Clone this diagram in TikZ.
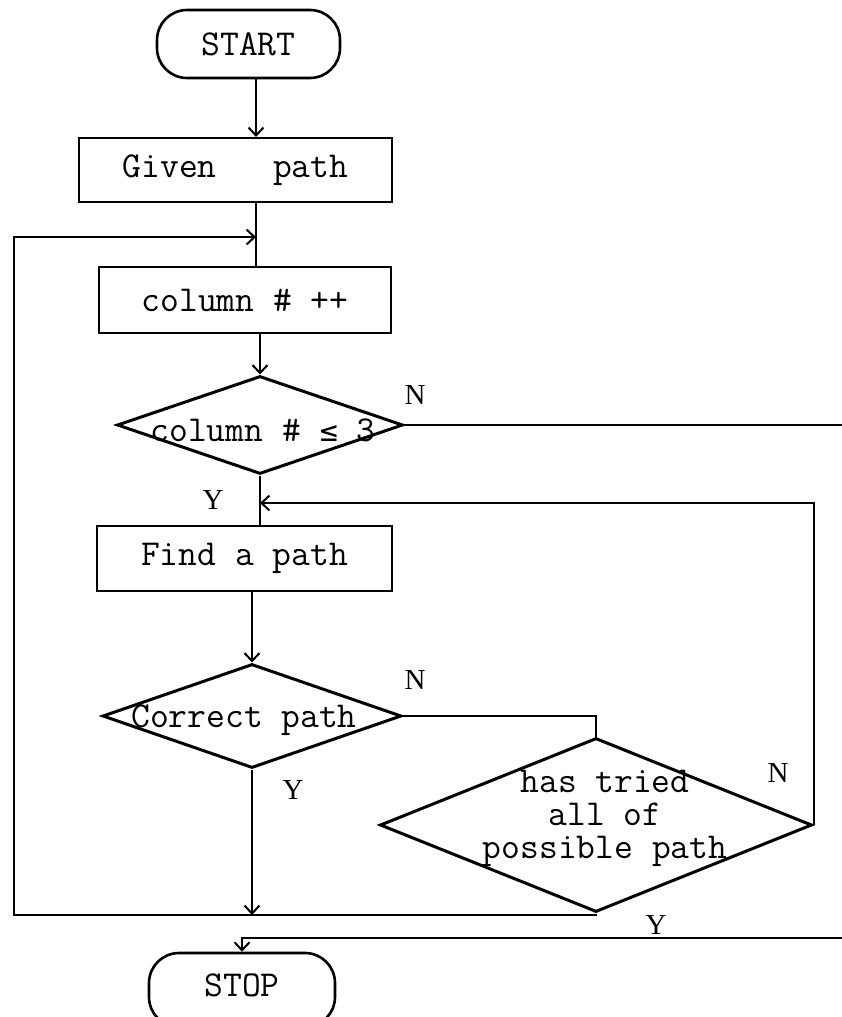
\documentclass[tikz,border=0pt]{standalone}
\usepackage{fontspec}
\newfontfamily\labfont{Liberation Serif}
\newfontfamily\symfont{DejaVu Sans Mono}
\usetikzlibrary{arrows.meta,shapes.geometric,calc}
\begin{document}
\begin{tikzpicture}[x=1pt,y=-1pt,
  tt/.style={font=\ttfamily\fontsize{36.5}{33}\selectfont},
  box/.style={tt, draw, line width=2pt, rectangle, inner sep=0pt},
  term/.style={tt, draw, line width=2.6pt, rounded corners=30pt, inner sep=0pt},
  dia/.style={draw, diamond, line width=3pt, inner sep=0pt},
  dtext/.style={tt, align=center, inner sep=0pt},
  lab/.style={font=\labfont\fontsize{29}{30}\selectfont, inner sep=0pt},
  conn/.style={line width=2pt},
  arr/.style={conn, -{Straight Barb[length=8pt,width=15pt,line width=2pt]}}
]
\useasboundingbox (0,0) rectangle (842,1017);

% nodes
\node[term, minimum width=183pt, minimum height=68pt] (start) at (248.5,44) {START};
\node[box, minimum width=313pt, minimum height=64pt] (given) at (235.5,170) {Given\ \ \ path};
\node[box, minimum width=292pt, minimum height=66pt] (column) at (245,300) {column \# ++};
\node[dia, minimum width=286pt, minimum height=98pt] (d1) at (260,425) {};
\node[dtext] (t1) at (263,430) {column \# {\symfont\fontsize{30}{33}\selectfont ≤} 3};
\node[box, minimum width=295pt, minimum height=65pt] (find) at (244.5,558.5) {Find a path};
\node[dia, minimum width=299pt, minimum height=104pt] (d2) at (252,716) {};
\node[dtext] (t2) at (244,720) {Correct path};
\node[dia, minimum width=432pt, minimum height=174pt] (d3) at (596,825) {};
\node[dtext] (t3) at (605,818) {has tried\\all of\\possible path};
\node[term, minimum width=186pt, minimum height=74pt] (stop) at (242,990) {\raisebox{9pt}{STOP}};

% labels
\node[lab] (n1) at (415,395) {N};
\node[lab] (y1) at (213,500) {Y};
\node[lab] (n2) at (415,680) {N};
\node[lab] (y2) at (293,790) {Y};
\node[lab] (n3) at (778,773) {N};
\node[lab] (y3) at (656,925) {Y};

% helper coordinates
\coordinate (sp) at (256,0);
\coordinate (j1) at (256,237);
\coordinate (yj2) at (0,503);
\coordinate (lbl) at (14,915);
\coordinate (ltl) at (14,237);
\coordinate (far) at (852,0);
\coordinate (ystop) at (0,938);

% connectors
\draw[arr] (start.south -| sp) -- (given.north -| sp);
\draw[conn] (given.south -| sp) -- (column.north -| sp);
\draw[arr] (column.south -| d1.north) -- (d1.north);
\draw[conn] (d1.south) -- (d1.south |- find.north);
\draw[arr] (find.south -| d2.north) -- (d2.north);
\draw[conn] (d2.east) -- (d2.east -| d3.north) -- (d3.north);
\draw[arr] (d3.east) -- (d3.east |- yj2) -- (d1.south |- yj2);
\draw[arr] (d2.south) -- (d2.south |- lbl);
\draw[arr] (d3.south) -- (d3.south |- lbl) -- (lbl) -- (ltl) -- (j1);
\draw[arr] (d1.east) -- (d1.east -| far) -- (far |- ystop) -- (stop.north |- ystop) -- (stop.north);
\end{tikzpicture}
\end{document}
